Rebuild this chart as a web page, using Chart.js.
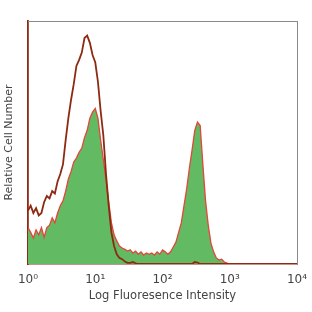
<!DOCTYPE html>
<html><head><meta charset="utf-8">
<script src="https://cdn.jsdelivr.net/npm/chart.js@4.4.0/dist/chart.umd.min.js"></script>
<style>html,body{margin:0;padding:0;background:#fff}#c{display:block}</style>
</head><body>
<canvas id="c" width="312" height="312"></canvas>
<script>
// log10 fluorescence bin positions (decades)
const logBins = [
  0.00,0.04,0.08,0.12,0.16,0.20,0.24,0.28,0.32,0.36,
  0.40,0.44,0.48,0.52,0.56,0.60,0.64,0.68,0.72,0.76,
  0.80,0.84,0.88,0.92,0.96,1.00,1.04,1.08,1.12,1.16,
  1.20,1.24,1.28,1.32,1.36,1.40,1.44,1.48,1.52,1.56,
  1.60,1.64,1.68,1.72,1.76,1.80,1.84,1.88,1.92,1.96,
  2.00,2.04,2.08,2.12,2.16,2.20,2.24,2.28,2.32,2.36,
  2.40,2.44,2.48,2.52,2.56,2.60,2.64,2.68,2.72,2.76,
  2.80,2.84,2.88,2.92,2.96,3.00
];
// unstained / isotype control (brown outline)
const controlCounts = [
  22,24,21,23,20,21,25.5,28,27,30,
  29,34,37,41,51,60,67.5,74,81.5,84,
  87,93,94,91,86,83,75,63,53,37,
  24,13,7.4,4,2.5,2,1,0.5,0.5,0.8,
  0.3,0,0,0,0,0,0,0,0,0,
  0,0,0,0,0,0,0,0,0,0,
  0,0,0.8,0.6,0,0,0,0,0,0,
  0,0,0,0,0,0
];
// stained sample (green fill, red outline)
const stainedCounts = [
  15,13,10.7,14,12,15,11,15,16,19,
  17,21,24,26,30,35,38,42,43.6,46,
  47.7,52,55,60,62.5,64,60,51,43,34.6,
  25.5,17,12,9.5,7.4,6.6,6,5.3,5.8,4.5,
  5.3,4,5,3.7,4.5,4,4.5,3.7,5,4,
  5.8,5,4,5,7,9,13,17,24,31,
  39.5,47,55,58.4,57,41,26,16,8.6,5,
  2.5,1.6,2,0.8,0.4,0
];
const tickValues = [0,1,2,3,4];
const tickLabels = ['10\u2070','10\u00B9','10\u00B2','10\u00B3','10\u2074'];
const xTitle = 'Log Fluoresence Intensity';
const yTitle = 'Relative Cell Number';

const BROWN = '#8c2a12';
const RED = '#e2463c';
const GREEN = '#62bb62';
const TEXT = '#444444';
const FONT = 'DejaVu Sans';

new Chart(document.getElementById('c').getContext('2d'), {
  type: 'line',
  data: {
    datasets: [
      {
        label: 'Control',
        data: logBins.map((x, i) => ({x: x, y: controlCounts[i]})),
        borderColor: BROWN,
        borderWidth: 1.8,
        fill: false,
        stepped: false,
        pointRadius: 0,
        tension: 0
      },
      {
        label: 'Stained',
        data: logBins.map((x, i) => ({x: x, y: stainedCounts[i]})),
        borderColor: RED,
        backgroundColor: GREEN,
        borderWidth: 1.3,
        fill: 'origin',
        stepped: false,
        pointRadius: 0,
        tension: 0
      }
    ]
  },
  options: {
    responsive: false,
    animation: false,
    devicePixelRatio: 1,
    layout: {padding: {top: 21, right: 15, left: 0, bottom: 0}},
    plugins: {legend: {display: false}, tooltip: {enabled: false}},
    scales: {
      x: {
        type: 'linear', position: 'bottom', min: 0, max: 4,
        afterBuildTicks: s => { s.ticks = tickValues.map(v => ({value: v})); },
        ticks: {
          callback: v => tickLabels[tickValues.indexOf(v)],
          padding: 9, color: TEXT, autoSkip: false, maxRotation: 0,
          font: {family: FONT, size: 12}
        },
        grid: {display: false, drawTicks: false},
        border: {display: true, color: BROWN, width: 1.5},
        title: {display: true, text: xTitle, color: TEXT,
                font: {family: FONT, size: 11.5}, padding: {top: 0, bottom: 9}},
        afterFit: s => { s.height = 48; s.paddingLeft = 0; s.paddingRight = 0; }
      },
      y: {
        type: 'linear', position: 'left', min: 0, max: 100,
        ticks: {display: false},
        grid: {display: false, drawTicks: false},
        border: {display: true, color: BROWN, width: 1.8},
        title: {display: true, text: yTitle, color: TEXT,
                font: {family: FONT, size: 11}, padding: {top: 2.4, bottom: 0}},
        afterFit: s => { s.width = 28; }
      },
      xTop: {
        type: 'linear', position: 'top', min: 0, max: 4, display: true,
        ticks: {display: false},
        grid: {display: false, drawTicks: false},
        border: {display: true, color: '#8a8a8a', width: 1},
        afterFit: s => { s.height = 0; s.paddingLeft = 0; s.paddingRight = 0; }
      },
      yRight: {
        type: 'linear', position: 'right', min: 0, max: 100, display: true,
        ticks: {display: false},
        grid: {display: false, drawTicks: false},
        border: {display: true, color: '#8a8a8a', width: 1},
        afterFit: s => { s.width = 0; }
      }
    }
  }
});
</script>
</body></html>
